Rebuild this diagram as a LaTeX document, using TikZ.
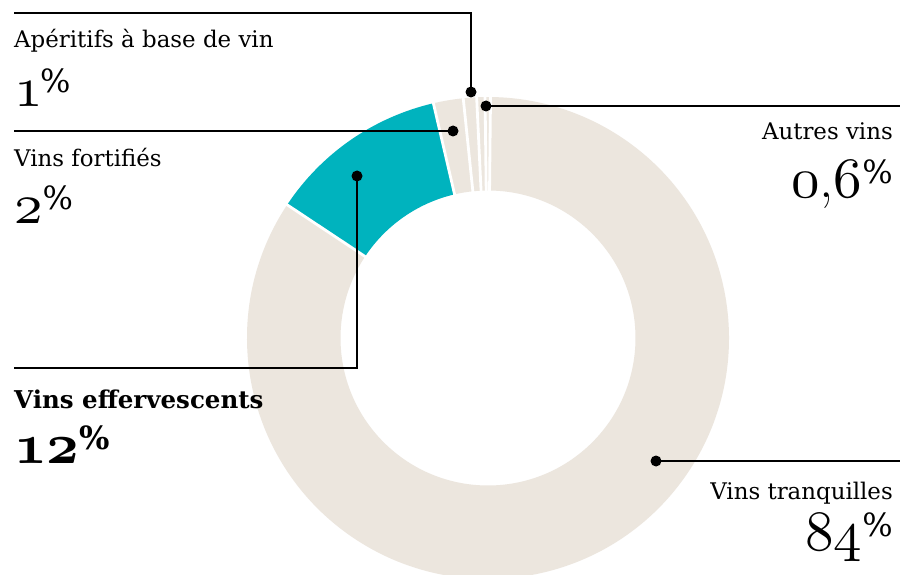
\documentclass[tikz,border=0pt]{standalone}
\usepackage{fontspec}
\setmainfont{DejaVu Serif}
\newfontfamily\lmrfont{Latin Modern Roman}
\DeclareFontFamily{OML}{myosf}{\skewchar\font=127 }
\DeclareFontShape{OML}{myosf}{m}{it}{<-> cmmi10}{}
\DeclareFontShape{OML}{myosf}{b}{it}{<-> cmmib10}{}
\definecolor{ringbeige}{RGB}{236,230,222}
\definecolor{ringteal}{RGB}{0,179,190}
\newcommand\osfnum[1]{{\usefont{OML}{myosf}{m}{it}#1}}
\newcommand\osfbnum[1]{{\usefont{OML}{myosf}{b}{it}#1}}
\newcommand\numcomma{{\lmrfont ,}}
\newcommand\pct{\raisebox{14pt}{\fontsize{32}{32}\selectfont\%}}
\newcommand\ringseg[3]{\fill[#3] (#1:241pt) arc[start angle=#1, end angle=#2, radius=241pt] -- (#2:147.5pt) arc[start angle=#2, end angle=#1, radius=147.5pt] -- cycle;}
\begin{document}
\begin{tikzpicture}[x=1pt,y=-1pt,
  lbl/.style={inner sep=0pt, font=\fontsize{22.9}{24}\selectfont},
  num/.style={inner sep=0pt, font=\fontsize{57}{60}\selectfont},
  dotnode/.style={circle, fill=black, inner sep=0pt, minimum size=11pt},
  leader/.style={line width=2pt, black},
  gapline/.style={line width=2.8pt, white}]
\useasboundingbox[fill=white] (0,0) rectangle (900,575);
% ring
\begin{scope}[shift={(488,338)}]
  \ringseg{146.45}{449.4}{ringbeige}
  \ringseg{103.1}{146.45}{ringteal}
  \ringseg{95.9}{103.1}{ringbeige}
  \ringseg{92.7}{95.9}{ringbeige}
  \ringseg{90.7}{92.7}{ringbeige}
  \ringseg{89.4}{90.7}{ringbeige}
  \foreach \a in {89.4,90.7,92.7,95.9,103.1,146.45}
    \draw[gapline] (\a:140pt) -- (\a:250pt);
\end{scope}
% dots
\node[dotnode] (dap) at (471,92) {};
\node[dotnode] (dfo) at (453,131) {};
\node[dotnode] (dau) at (486,106) {};
\node[dotnode] (def) at (357,176) {};
\node[dotnode] (dtr) at (656,461) {};
\coordinate (cap) at (14,13);
\coordinate (cfo) at (14,131);
\coordinate (cau) at (900,106);
\coordinate (cef) at (14,368);
\coordinate (ctr) at (900,461);
\draw[leader] (cap) -| (dap.center);
\draw[leader] (cfo) -- (dfo.center);
\draw[leader] (dau.center) -- (cau);
\draw[leader] (def.center) |- (cef);
\draw[leader] (dtr.center) -- (ctr);
% labels
\node[lbl, anchor=base west] (tap) at (14,48) {Apéritifs à base de vin};
\node[num, anchor=base west] (nap) at (14,107) {\osfnum{1}\kern-2.5pt\pct};
\node[lbl, anchor=base west] (tfo) at (14,167) {Vins fortifiés};
\node[num, anchor=base west] (nfo) at (14,223) {\osfnum{2}\pct};
\node[lbl, anchor=base east] (tau) at (893,140) {Autres vins};
\node[num, anchor=base east] (nau) at (893,197) {\osfnum{0}\numcomma\osfnum{6}\pct};
\node[lbl, anchor=base west, font=\fontsize{24.5}{26}\selectfont\bfseries] (tef) at (14,408) {Vins effervescents};
\node[num, anchor=base west, font=\fontsize{57}{60}\selectfont\bfseries] (nef) at (14,463) {\osfbnum{12}\pct};
\node[lbl, anchor=base east] (ttr) at (893,499) {Vins tranquilles};
\node[num, anchor=base east] (ntr) at (893,550) {\osfnum{84}\pct};
\end{tikzpicture}
\end{document}
